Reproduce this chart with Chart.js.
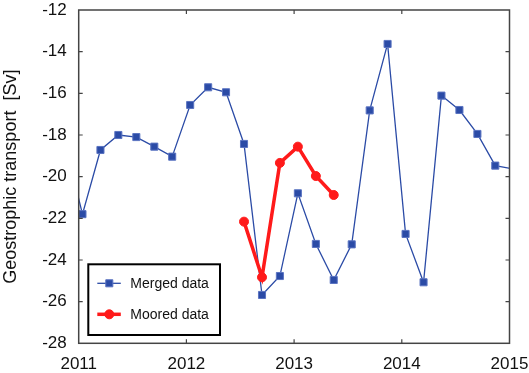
<!DOCTYPE html>
<html>
<head>
<meta charset="utf-8">
<script src="https://cdn.jsdelivr.net/npm/chart.js@4"></script>
<style>
  html, body { margin: 0; padding: 0; background: #fff; }
  #wrap { width: 529px; height: 373px; }
</style>
</head>
<body>
<div id="wrap"><canvas id="chart" width="529" height="373"></canvas></div>
<script>
// ---- data ----
const mergedTime = [2010.868, 2011.035, 2011.202, 2011.368, 2011.535, 2011.702, 2011.868,
  2012.035, 2012.202, 2012.368, 2012.535, 2012.702, 2012.868,
  2013.035, 2013.202, 2013.368, 2013.535, 2013.702, 2013.868,
  2014.035, 2014.202, 2014.368, 2014.535, 2014.702, 2014.868, 2015.035];
const mergedTransport = [-18.3, -21.8, -18.72, -18.0, -18.1, -18.56, -19.04,
  -16.56, -15.71, -15.95, -18.43, -25.68, -24.77,
  -20.8, -23.23, -24.96, -23.25, -16.82, -13.63,
  -22.75, -25.07, -16.11, -16.8, -17.95, -19.47, -19.63];

const mooredTime = [2012.535, 2012.702, 2012.868, 2013.035, 2013.202, 2013.368];
const mooredTransport = [-22.16, -24.83, -19.34, -18.56, -19.97, -20.88];

const yearTicks = [2011, 2012, 2013, 2014, 2015];
const transportTicks = [-28, -26, -24, -22, -20, -18, -16, -14, -12];

const FONT = "'Liberation Sans', Arial, Helvetica, sans-serif";
const blue = '#2b4ba6';
const red = '#ff1a1a';
const frameColor = '#444';

const toXY = (xs, ys) => xs.map((x, i) => ({ x: x, y: ys[i] }));

// frame box + inward ticks on all four sides
const framePlugin = {
  id: 'frame',
  afterDraw(chart) {
    const { ctx, chartArea: a, scales: { x, y } } = chart;
    ctx.save();
    ctx.strokeStyle = frameColor;
    ctx.lineWidth = 1.5;
    ctx.strokeRect(a.left, a.top, a.right - a.left, a.bottom - a.top);
    ctx.lineWidth = 1.2;
    ctx.beginPath();
    const tl = 4;
    yearTicks.slice(1, -1).forEach(v => {
      const px = x.getPixelForValue(v);
      ctx.moveTo(px, a.bottom); ctx.lineTo(px, a.bottom - tl);
      ctx.moveTo(px, a.top); ctx.lineTo(px, a.top + tl);
    });
    transportTicks.slice(1, -1).forEach(v => {
      const py = y.getPixelForValue(v);
      ctx.moveTo(a.left, py); ctx.lineTo(a.left + tl, py);
      ctx.moveTo(a.right, py); ctx.lineTo(a.right - tl, py);
    });
    ctx.stroke();
    ctx.restore();
  }
};

// boxed legend sitting inside the lower left of the plot
const legendBox = { left: 88.3, top: 264.3, width: 131.7, height: 70.7 };
const boxLegendPlugin = {
  id: 'boxLegend',
  afterDraw(chart) {
    const ctx = chart.ctx;
    const b = legendBox;
    ctx.save();
    ctx.fillStyle = '#fff';
    ctx.fillRect(b.left, b.top, b.width, b.height);
    ctx.strokeStyle = '#000';
    ctx.lineWidth = 2;
    ctx.strokeRect(b.left, b.top, b.width, b.height);
    const rows = [chart.data.datasets[1], chart.data.datasets[0]];
    rows.forEach((ds, i) => {
      const cy = b.top + 19 + i * 31;
      ctx.strokeStyle = ds.borderColor;
      ctx.lineWidth = ds.borderWidth;
      ctx.beginPath();
      ctx.moveTo(b.left + 9, cy);
      ctx.lineTo(b.left + 32.5, cy);
      ctx.stroke();
      ctx.fillStyle = ds.pointBackgroundColor;
      ctx.strokeStyle = ds.pointBorderColor;
      ctx.lineWidth = ds.pointBorderWidth;
      Chart.helpers.drawPoint(ctx, { pointStyle: ds.pointStyle, radius: ds.pointRadius, borderWidth: ds.pointBorderWidth }, b.left + 21, cy);
      ctx.fillStyle = '#111';
      ctx.font = '14px ' + FONT;
      ctx.textAlign = 'left';
      ctx.textBaseline = 'middle';
      ctx.fillText(ds.label, b.left + 42, cy + 0.5);
    });
    ctx.restore();
  }
};

new Chart(document.getElementById('chart'), {
  type: 'line',
  data: {
    datasets: [
      {
        label: 'Moored data',
        data: toXY(mooredTime, mooredTransport),
        borderColor: red, borderWidth: 3.5,
        pointStyle: 'circle', pointRadius: 4.5,
        pointBackgroundColor: red, pointBorderColor: red, pointBorderWidth: 1,
        tension: 0, order: 0, clip: 0
      },
      {
        label: 'Merged data',
        data: toXY(mergedTime, mergedTransport),
        borderColor: blue, borderWidth: 1.3,
        pointStyle: 'rect', pointRadius: 5,
        pointBackgroundColor: blue, pointBorderColor: '#5b74c2', pointBorderWidth: 1,
        tension: 0, order: 1, clip: 0
      }
    ]
  },
  options: {
    responsive: false,
    animation: false,
    events: [],
    layout: { padding: { top: 10, right: 19.5, left: 0, bottom: 0 } },
    plugins: { legend: { display: false }, tooltip: { enabled: false } },
    scales: {
      x: {
        type: 'linear', min: 2011, max: 2015,
        afterBuildTicks: s => { s.ticks = yearTicks.map(v => ({ value: v })); },
        afterFit: s => { s.height = 29.7; s.paddingLeft = 0; s.paddingRight = 0; },
        grid: { display: false, drawTicks: false },
        border: { display: false },
        ticks: { color: '#111', font: { family: FONT, size: 17 }, padding: 11, maxRotation: 0, autoSkip: false,
          callback: v => String(v) }
      },
      y: {
        min: -28, max: -12,
        afterBuildTicks: s => { s.ticks = transportTicks.map(v => ({ value: v })); },
        afterFit: s => { s.width = 78.7; s.paddingTop = 0; s.paddingBottom = 0; },
        grid: { display: false, drawTicks: false },
        border: { display: false },
        ticks: { color: '#111', font: { family: FONT, size: 17 }, padding: 12, autoSkip: false,
          callback: v => String(v) },
        title: { display: true, text: 'Geostrophic transport  [Sv]', color: '#111',
          font: { family: FONT, size: 18 }, padding: { top: 0, bottom: 0 } }
      }
    }
  },
  plugins: [framePlugin, boxLegendPlugin]
});
</script>
</body>
</html>
